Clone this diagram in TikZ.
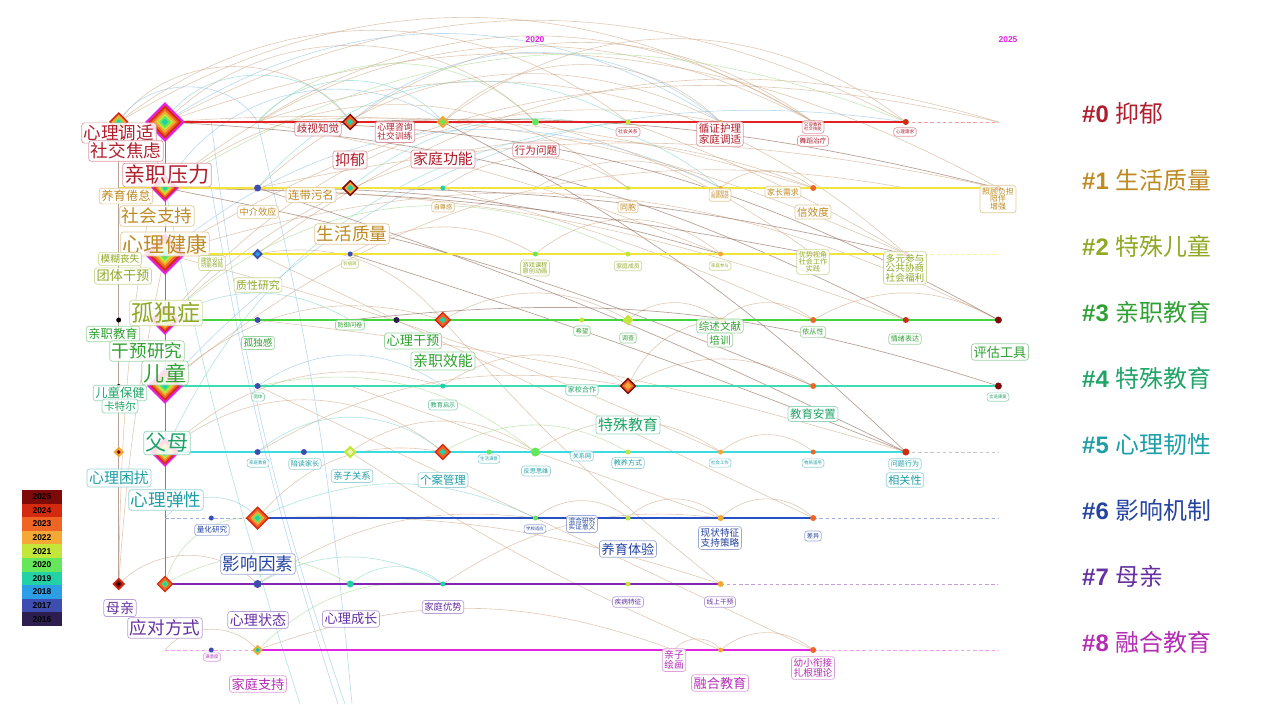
\documentclass[tikz,border=0pt]{standalone}
\usepackage{fontspec}
\setmainfont{Liberation Sans}
\newfontfamily\cjk{Noto Sans CJK SC}
\usetikzlibrary{shapes.geometric}
\definecolor{k0}{HTML}{B01E2E}
\definecolor{k1}{HTML}{BE8A22}
\definecolor{k2}{HTML}{8FA924}
\definecolor{k3}{HTML}{2FA032}
\definecolor{k4}{HTML}{1FA468}
\definecolor{k5}{HTML}{1E9EA6}
\definecolor{k6}{HTML}{2544A0}
\definecolor{k7}{HTML}{6430A2}
\definecolor{k8}{HTML}{B42CB4}
\definecolor{t0}{HTML}{E22222}
\definecolor{t1}{HTML}{F2E53A}
\definecolor{t2}{HTML}{F2E53A}
\definecolor{t3}{HTML}{44D43C}
\definecolor{t4}{HTML}{3ADCB4}
\definecolor{t5}{HTML}{3ADCE0}
\definecolor{t6}{HTML}{2452C4}
\definecolor{t7}{HTML}{8424B2}
\definecolor{t8}{HTML}{E224E2}
\definecolor{y15}{HTML}{3A1830}
\definecolor{y16}{HTML}{2E1E50}
\definecolor{y17}{HTML}{3E4EB0}
\definecolor{y18}{HTML}{2C9EE6}
\definecolor{y19}{HTML}{22D2A6}
\definecolor{y20}{HTML}{66E65A}
\definecolor{y21}{HTML}{C4E63A}
\definecolor{y22}{HTML}{F4A836}
\definecolor{y23}{HTML}{F06424}
\definecolor{y24}{HTML}{D42A10}
\definecolor{y25}{HTML}{7E0A0A}
\definecolor{arcTc}{HTML}{C9A07A}
\definecolor{arcBc}{HTML}{8EC2E6}
\definecolor{arcGc}{HTML}{A4DC8C}
\definecolor{arcCc}{HTML}{7CD6CC}
\definecolor{arcDc}{HTML}{8A6654}
\definecolor{yrc}{HTML}{E020E0}
\tikzset{
  kw/.style 2 args={draw=#1!45, text=#1, rounded corners=1.5pt, fill=white, fill opacity=.85,
    text opacity=1, inner sep=1.2pt, line width=.4pt, align=center,
    font=\cjk\fontsize{#2}{#2}\selectfont},
  arcT/.style={draw=arcTc, line width=.35pt, opacity=.55},
  arcB/.style={draw=arcBc, line width=.35pt, opacity=.6},
  arcG/.style={draw=arcGc, line width=.35pt, opacity=.6},
  arcC/.style={draw=arcCc, line width=.35pt, opacity=.6},
  arcD/.style={draw=arcDc, line width=.4pt, opacity=.6},
  tline/.style={line width=1.2pt},
  tdash/.style={line width=.4pt, dash pattern=on 2pt off 1.5pt},
  dotst/.style={circle, inner sep=0pt, draw=none},
  gemst/.style={diamond, aspect=1, inner sep=0pt, draw=none},
  legst/.style={rectangle, inner sep=0pt, minimum width=0.8cm, minimum height=0.272cm,
    font=\bfseries\fontsize{4.8}{4.8}\selectfont, text=black},
  clu/.style={anchor=west, font=\fontsize{13.6}{13.6}\selectfont}
}
\newcommand\gem[3]{\foreach \gc/\gs in {#3}{\node[gemst, fill=\gc, minimum size={#2*\gs*0.02cm}] at (#1) {};}}

\begin{document}
\begin{tikzpicture}[x=0.02cm, y=-0.02cm]
  \useasboundingbox (0,0) rectangle (1262,704);
  \fill[white] (0,0) rectangle (1262,704);
  \foreach \l in {0,...,8}
    \foreach \k in {0,...,19}
      \coordinate (p\l-\k) at ({118.7+46.3*\k},{122+66*\l});
  \coordinate (botA) at (345,704);
  \coordinate (botB) at (338,704);
  \coordinate (botC) at (300,704);
  \coordinate (botD) at (352,704);

  \foreach \a/\b/\g/\c in {0-1/0-17/28/arcT, 0-1/1-19/24/arcT, 0-1/0-13/33/arcB, 0-0/0-15/31/arcT,
      1-1/0-15/34/arcT, 0-3/2-17/30/arcT, 2-1/3-19/22/arcT, 1-3/0-11/40/arcC, 3-1/1-15/33/arcT,
      4-1/0-17/28/arcB, 2-3/0-19/27/arcT, 0-5/0-15/36/arcT, 1-5/1-13/40/arcC, 0-7/0-17/38/arcT,
      0-3/0-9/46/arcG, 1-1/0-7/48/arcB, 0-1/0-5/60/arcC, 0-1/0-9/45/arcT, 1-1/1-11/38/arcT,
      2-1/1-13/33/arcB, 3-1/2-11/35/arcG, 0-0/0-5/55/arcT, 0-0/0-3/60/arcB, 1-3/0-13/35/arcT,
      0-5/0-13/40/arcB, 0-7/0-13/45/arcT, 0-3/0-7/50/arcC, 4-1/1-17/25/arcT, 5-1/0-11/30/arcC,
      2-1/0-19/22/arcT, 3-1/0-13/30/arcT, 0-3/0-15/32/arcT, 1-1/0-17/27/arcG, 0-0/0-11/38/arcT}
    \draw[\c] (p\a) to[bend left=\g] (p\b);
  \foreach \a/\b/\g/\c in {5-1/5-7/40/arcT, 5-3/5-7/40/arcC, 5-5/5-9/35/arcT, 5-7/5-11/30/arcG,
      5-9/5-13/35/arcT, 6-9/6-11/40/arcT, 6-11/6-13/45/arcT, 6-13/6-15/45/arcT, 8-12/8-13/55/arcT,
      8-13/8-15/40/arcT, 7-3/7-7/30/arcC, 7-1/7-5/30/arcG, 7-5/7-7/40/arcC, 3-7/3-11/30/arcT,
      4-7/4-11/35/arcT, 4-11/3-13/30/arcT, 3-11/3-13/40/arcT, 2-9/2-13/40/arcT, 1-7/1-11/35/arcT,
      7-0/7-3/45/arcT, 7-1/6-3/40/arcG, 6-3/5-7/30/arcT, 5-1/4-7/30/arcT, 4-1/3-7/30/arcT,
      3-1/3-5/30/arcC, 4-3/4-7/35/arcB, 6-1/6-3/50/arcB, 8-3/7-7/25/arcG, 8-1/8-3/50/arcT,
      6-3/6-9/25/arcC, 7-3/6-9/20/arcT, 5-3/4-11/20/arcT, 2-5/2-9/30/arcT, 1-9/1-13/30/arcT,
      1-13/1-15/40/arcT, 3-13/3-15/40/arcT, 3-15/3-19/30/arcT, 5-13/5-15/40/arcT, 4-11/4-15/30/arcT,
      7-7/6-13/20/arcT, 8-3/8-12/20/arcT, 6-3/7-13/10/arcT, 4-3/5-9/25/arcG, 2-3/3-7/30/arcT}
    \draw[\c] (p\a) to[bend left=\g] (p\b);
  \foreach \a/\b/\g/\c in {0-5/1-19/8/arcD, 0-3/3-19/14/arcD, 1-5/2-17/6/arcD, 0-7/5-17/8/arcD,
      1-3/5-17/4/arcD, 2-5/5-17/2/arcD, 3-5/4-19/12/arcD, 0-1/3-17/12/arcD, 1-1/4-15/6/arcD,
      2-3/6-15/0/arcT, 3-7/7-13/-5/arcT, 4-3/8-15/0/arcT, 1-7/3-15/5/arcT, 0-9/2-15/10/arcT,
      2-1/5-13/5/arcT, 1-3/2-13/8/arcD, 4-5/6-13/0/arcT, 5-5/8-13/-5/arcT, 0-11/2-17/5/arcT,
      3-3/5-17/5/arcT, 1-1/2-15/5/arcD, 0-3/2-13/6/arcT, 0-3/1-15/10/arcT, 1-3/1-19/12/arcT,
      0-1/2-17/14/arcT, 1-1/3-17/10/arcT}
    \draw[\c] (p\a) to[bend left=\g] (p\b);
  \draw[arcB] (p0-2) to[bend right=6] (botA);
  \draw[arcB] (p1-2) to[bend right=4] (botB);
  \draw[arcB] (p0-3) to[bend left=4] (botD);
  \draw[arcC] (p1-1) to[bend right=3] (botC);
  \draw[arcD] (p0-0) -- (p7-0);
  \draw[arcT] (p0-1) to[bend right=5] (p7-0);
  \draw[arcT] (p2-1) to[bend right=4] (p7-0);
  \draw[draw=gray, line width=.5pt] (p0-1) -- (p7-1);

  \foreach \l/\s/\e/\c in {0/1/17/t0, 1/0/19/t1, 2/0/17/t2, 3/1/19/t3, 4/1/19/t4, 5/1/17/t5,
      6/3/15/t6, 7/1/13/t7, 8/3/15/t8}
    \draw[tline, \c] (p\l-\s) -- (p\l-\e);
  \foreach \l/\s/\c in {0/17/t0, 2/17/t2, 5/17/gray, 6/15/t6, 7/13/t7, 8/15/t8}
    \draw[tdash, \c!45] (p\l-\s) -- (p\l-19);
  \draw[tdash, t6!45] (p6-1) -- (p6-3);
  \draw[tdash, t8!45] (p8-1) -- (p8-3);

  \foreach \l/\k/\c/\s in {0/9/y20/7, 0/11/y21/5, 0/13/y22/4, 0/15/y23/4, 0/17/y24/6,
      1/3/y17/7, 1/7/y19/5, 1/11/y21/4, 1/13/y22/4, 1/15/y23/6, 1/19/y25/5,
      2/5/y17/5, 2/9/y20/5, 2/11/y21/5, 2/13/y22/5, 2/15/y23/5, 2/17/y24/5,
      3/0/black/5, 3/3/y17/6, 3/6/y16/6, 3/10/y21/5, 3/13/y22/5, 3/15/y23/6, 3/17/y24/6, 3/19/y25/7,
      4/0/black/4, 4/3/y17/6, 4/7/y19/5, 4/15/y23/6, 4/19/y25/7,
      5/3/y17/6, 5/4/y17/6, 5/8/y20/5, 5/9/y20/9, 5/11/y21/5, 5/13/y22/5, 5/15/y23/5, 5/17/y24/7,
      6/2/y17/5, 6/9/y20/5, 6/11/y21/5, 6/13/y22/6, 6/15/y23/6,
      7/3/y17/8, 7/5/y19/7, 7/7/y19/5, 7/11/y21/5, 7/13/y22/6,
      8/2/y17/5, 8/12/y22/4, 8/13/y22/5, 8/15/y23/6}
    \node[dotst, fill=\c, minimum size={\s*0.02cm}] (d\l-\k) at (p\l-\k) {};

  \gem{p0-1}{40}{t8/1, y24/.84, y23/.7, y22/.56, y21/.43, y20/.31, y19/.18}
  \gem{p1-1}{28}{t8/1, y24/.84, y23/.7, y22/.56, y21/.43, y20/.31, y19/.18}
  \gem{p2-1}{42}{t8/1, y24/.84, y23/.7, y22/.56, y21/.43, y20/.31, y19/.18}
  \gem{p3-1}{30}{t8/1, y24/.84, y23/.7, y22/.56, y21/.43, y20/.31, y19/.18}
  \gem{p4-1}{36}{t8/1, y24/.84, y23/.7, y22/.56, y21/.43, y20/.31, y19/.18}
  \gem{p5-1}{30}{t8/1, y24/.84, y23/.7, y22/.56, y21/.43, y20/.31, y19/.18}
  \gem{p0-0}{20}{y24/1, y22/.75, y20/.45, y19/.25}
  \gem{p5-0}{11}{y22/1, y25/.4}
  \gem{p7-0}{13}{y24/1, y25/.6, black/.25}
  \gem{p7-1}{17}{y24/1, y23/.8, y20/.45, y19/.3}
  \gem{p6-3}{24}{y24/1, y23/.8, y22/.6, y20/.4, y19/.25}
  \gem{p8-3}{11}{y22/1, y20/.6, y18/.35}
  \gem{p0-5}{17}{y25/1, y23/.75, y19/.4}
  \gem{p1-5}{17}{y25/1, y22/.7, y19/.4}
  \gem{p0-7}{13}{y22/1, y20/.5}
  \gem{p3-7}{17}{y24/1, y23/.75, y19/.4}
  \gem{p4-11}{17}{y25/1, y23/.75, y22/.45}
  \gem{p5-7}{17}{y24/1, y23/.75, y19/.4}
  \gem{p5-5}{13}{y21/1, y21!40/.5}
  \gem{p3-11}{11}{y21/1}
  \gem{p2-3}{11}{y17/1, y18/.5}

  \node[kw={k0}{10}] (l0a) at (119,133) {心理调适};
  \node[kw={k0}{10}] (l0b) at (126,151) {社交焦虑};
  \node[kw={k0}{12}] (l0c) at (167,175) {亲职压力};
  \node[kw={k0}{6}] (l0d) at (318,129) {歧视知觉};
  \node[kw={k0}{5}] (l0e) at (395,132) {心理咨询\\社交训练};
  \node[kw={k0}{8.5}] (l0f) at (350,160) {抑郁};
  \node[kw={k0}{8.5}] (l0g) at (443,159) {家庭功能};
  \node[kw={k0}{6}] (l0h) at (536,150) {行为问题};
  \node[kw={k0}{2.8}] (l0i) at (628,132) {社会关系};
  \node[kw={k0}{6}] (l0j) at (720,134) {循证护理\\家庭调适};
  \node[kw={k0}{2.5}] (l0k) at (813,127) {父母教养\\社交技能};
  \node[kw={k0}{3.8}] (l0l) at (813,141) {舞蹈治疗};
  \node[kw={k0}{2.6}] (l0m) at (905,132) {心理需求};

  \node[kw={k1}{7}] (l1a) at (126,196) {养育倦怠};
  \node[kw={k1}{6.5}] (l1b) at (311,195) {连带污名};
  \node[kw={k1}{10}] (l1c) at (157,216) {社会支持};
  \node[kw={k1}{5.2}] (l1d) at (258,212) {中介效应};
  \node[kw={k1}{12}] (l1e) at (165,244) {心理健康};
  \node[kw={k1}{10}] (l1f) at (352,234) {生活质量};
  \node[kw={k1}{3.5}] (l1g) at (443,207) {自尊感};
  \node[kw={k1}{4.5}] (l1h) at (628,207) {同胞};
  \node[kw={k1}{2.5}] (l1i) at (720,195) {心理韧性\\照顾体验};
  \node[kw={k1}{4.5}] (l1j) at (783,192) {家长需求};
  \node[kw={k1}{6}] (l1k) at (813,212) {信效度};
  \node[kw={k1}{4.5}] (l1l) at (998,199) {照顾负担\\陪伴\\增强};

  \node[kw={k2}{5.5}] (l2a) at (120,259) {模糊丧失};
  \node[kw={k2}{7.5}] (l2b) at (123,276) {团体干预};
  \node[kw={k2}{3.2}] (l2c) at (212,263) {建筑设计\\功能布局};
  \node[kw={k2}{6.2}] (l2d) at (258,285) {质性研究};
  \node[kw={k2}{2.5}] (l2e) at (350,264) {价值观};
  \node[kw={k2}{3.5}] (l2f) at (535,268) {游戏课程\\原创动画};
  \node[kw={k2}{3.3}] (l2g) at (628,266) {家庭成员};
  \node[kw={k2}{2.5}] (l2h) at (720,266) {家庭参与};
  \node[kw={k2}{4}] (l2i) at (813,262) {优势视角\\社会工作\\实践};
  \node[kw={k2}{5.5}] (l2j) at (905,268) {多元参与\\公共协商\\社会福利};

  \node[kw={k2}{13}] (l3a) at (166,313) {孤独症};
  \node[kw={k3}{7}] (l3b) at (113,334) {亲职教育};
  \node[kw={k3}{10}] (l3c) at (147,351) {干预研究};
  \node[kw={k3}{5.5}] (l3d) at (258,343) {孤独感};
  \node[kw={k3}{3.5}] (l3e) at (350,325) {防御问卷};
  \node[kw={k3}{7.5}] (l3f) at (413,341) {心理干预};
  \node[kw={k3}{8.5}] (l3g) at (443,361) {亲职效能};
  \node[kw={k3}{3.5}] (l3h) at (582,331) {希望};
  \node[kw={k3}{3.5}] (l3i) at (628,338) {调查};
  \node[kw={k3}{6}] (l3j) at (720,326) {综述文献};
  \node[kw={k3}{6}] (l3k) at (720,340) {培训};
  \node[kw={k3}{4}] (l3l) at (813,332) {依从性};
  \node[kw={k3}{4}] (l3m) at (905,339) {情绪表达};
  \node[kw={k3}{7.5}] (l3n) at (1000,352) {评估工具};

  \node[kw={k3}{12}] (l4a) at (165,373) {儿童};
  \node[kw={k4}{7}] (l4b) at (120,393) {儿童保健};
  \node[kw={k4}{6}] (l4c) at (120,406) {卡特尔};
  \node[kw={k4}{2.5}] (l4d) at (258,397) {团体};
  \node[kw={k4}{3.5}] (l4e) at (443,405) {教育启示};
  \node[kw={k4}{4}] (l4f) at (582,390) {家校合作};
  \node[kw={k4}{8.5}] (l4g) at (628,425) {特殊教育};
  \node[kw={k4}{6.5}] (l4h) at (813,414) {教育安置};
  \node[kw={k4}{2.5}] (l4i) at (998,397) {言语康复};

  \node[kw={k4}{12}] (l5a) at (167,443) {父母};
  \node[kw={k5}{8.5}] (l5b) at (119,478) {心理困扰};
  \node[kw={k5}{10}] (l5c) at (166,500) {心理弹性};
  \node[kw={k5}{2.5}] (l5d) at (258,463) {家庭教育};
  \node[kw={k5}{4}] (l5e) at (305,464) {陪读家长};
  \node[kw={k5}{5.3}] (l5f) at (352,476) {亲子关系};
  \node[kw={k5}{6.5}] (l5g) at (443,480) {个案管理};
  \node[kw={k5}{2.5}] (l5h) at (489,459) {生活满意};
  \node[kw={k5}{3.5}] (l5i) at (536,471) {反思思维};
  \node[kw={k5}{3.5}] (l5j) at (582,456) {关系网};
  \node[kw={k5}{4}] (l5k) at (628,463) {教养方式};
  \node[kw={k5}{2.5}] (l5l) at (720,463) {社会工作};
  \node[kw={k5}{2.5}] (l5m) at (813,463) {物质滥用};
  \node[kw={k5}{4}] (l5n) at (905,464) {问题行为};
  \node[kw={k5}{6.3}] (l5o) at (905,480) {相关性};

  \node[kw={k6}{4.3}] (l6a) at (212,530) {量化研究};
  \node[kw={k6}{10}] (l6b) at (258,564) {影响因素};
  \node[kw={k6}{2.5}] (l6c) at (535,529) {学校适应};
  \node[kw={k6}{3.8}] (l6d) at (582,524) {混合研究\\实证意义};
  \node[kw={k6}{7.5}] (l6e) at (628,549) {养育体验};
  \node[kw={k6}{5.5}] (l6f) at (720,538) {现状特征\\支持策略};
  \node[kw={k6}{3.5}] (l6g) at (813,536) {差异};

  \node[kw={k7}{8}] (l7a) at (120,608) {母亲};
  \node[kw={k7}{10}] (l7b) at (165,628) {应对方式};
  \node[kw={k7}{8}] (l7c) at (258,620) {心理状态};
  \node[kw={k7}{7.5}] (l7d) at (351,619) {心理成长};
  \node[kw={k7}{5.3}] (l7e) at (443,607) {家庭优势};
  \node[kw={k7}{3.8}] (l7f) at (628,602) {疾病特征};
  \node[kw={k7}{3.8}] (l7g) at (720,602) {线上干预};

  \node[kw={k8}{2.5}] (l8a) at (212,657) {满意度};
  \node[kw={k8}{7.5}] (l8b) at (258,684) {家庭支持};
  \node[kw={k8}{5.5}] (l8c) at (674,660) {亲子\\绘画};
  \node[kw={k8}{7.5}] (l8d) at (720,683) {融合教育};
  \node[kw={k8}{5.5}] (l8e) at (813,668) {幼小衔接\\扎根理论};

  \node[text=yrc, font=\bfseries\fontsize{4.8}{4.8}\selectfont] (yr20) at (535,40) {2020};
  \node[text=yrc, font=\bfseries\fontsize{4.8}{4.8}\selectfont] (yr25) at (1008,40) {2025};

  \foreach \yr/\c [count=\i] in {2025/y25, 2024/y24, 2023/y23, 2022/y22, 2021/y21, 2020/y20,
      2019/y19, 2018/y18, 2017/y17, 2016/y16}
    \node[legst, fill=\c] (lg\yr) at (42,{483.2+13.6*\i}) {\yr};

  \node[clu, text=k0] (c0) at (1076,113) {\textbf{\#0} {\cjk 抑郁}};
  \node[clu, text=k1] (c1) at (1076,180) {\textbf{\#1} {\cjk 生活质量}};
  \node[clu, text=k2] (c2) at (1076,246) {\textbf{\#2} {\cjk 特殊儿童}};
  \node[clu, text=k3] (c3) at (1076,312) {\textbf{\#3} {\cjk 亲职教育}};
  \node[clu, text=k4] (c4) at (1076,378) {\textbf{\#4} {\cjk 特殊教育}};
  \node[clu, text=k5] (c5) at (1076,444) {\textbf{\#5} {\cjk 心理韧性}};
  \node[clu, text=k6] (c6) at (1076,510) {\textbf{\#6} {\cjk 影响机制}};
  \node[clu, text=k7] (c7) at (1076,576) {\textbf{\#7} {\cjk 母亲}};
  \node[clu, text=k8] (c8) at (1076,642) {\textbf{\#8} {\cjk 融合教育}};
\end{tikzpicture}
\end{document}
